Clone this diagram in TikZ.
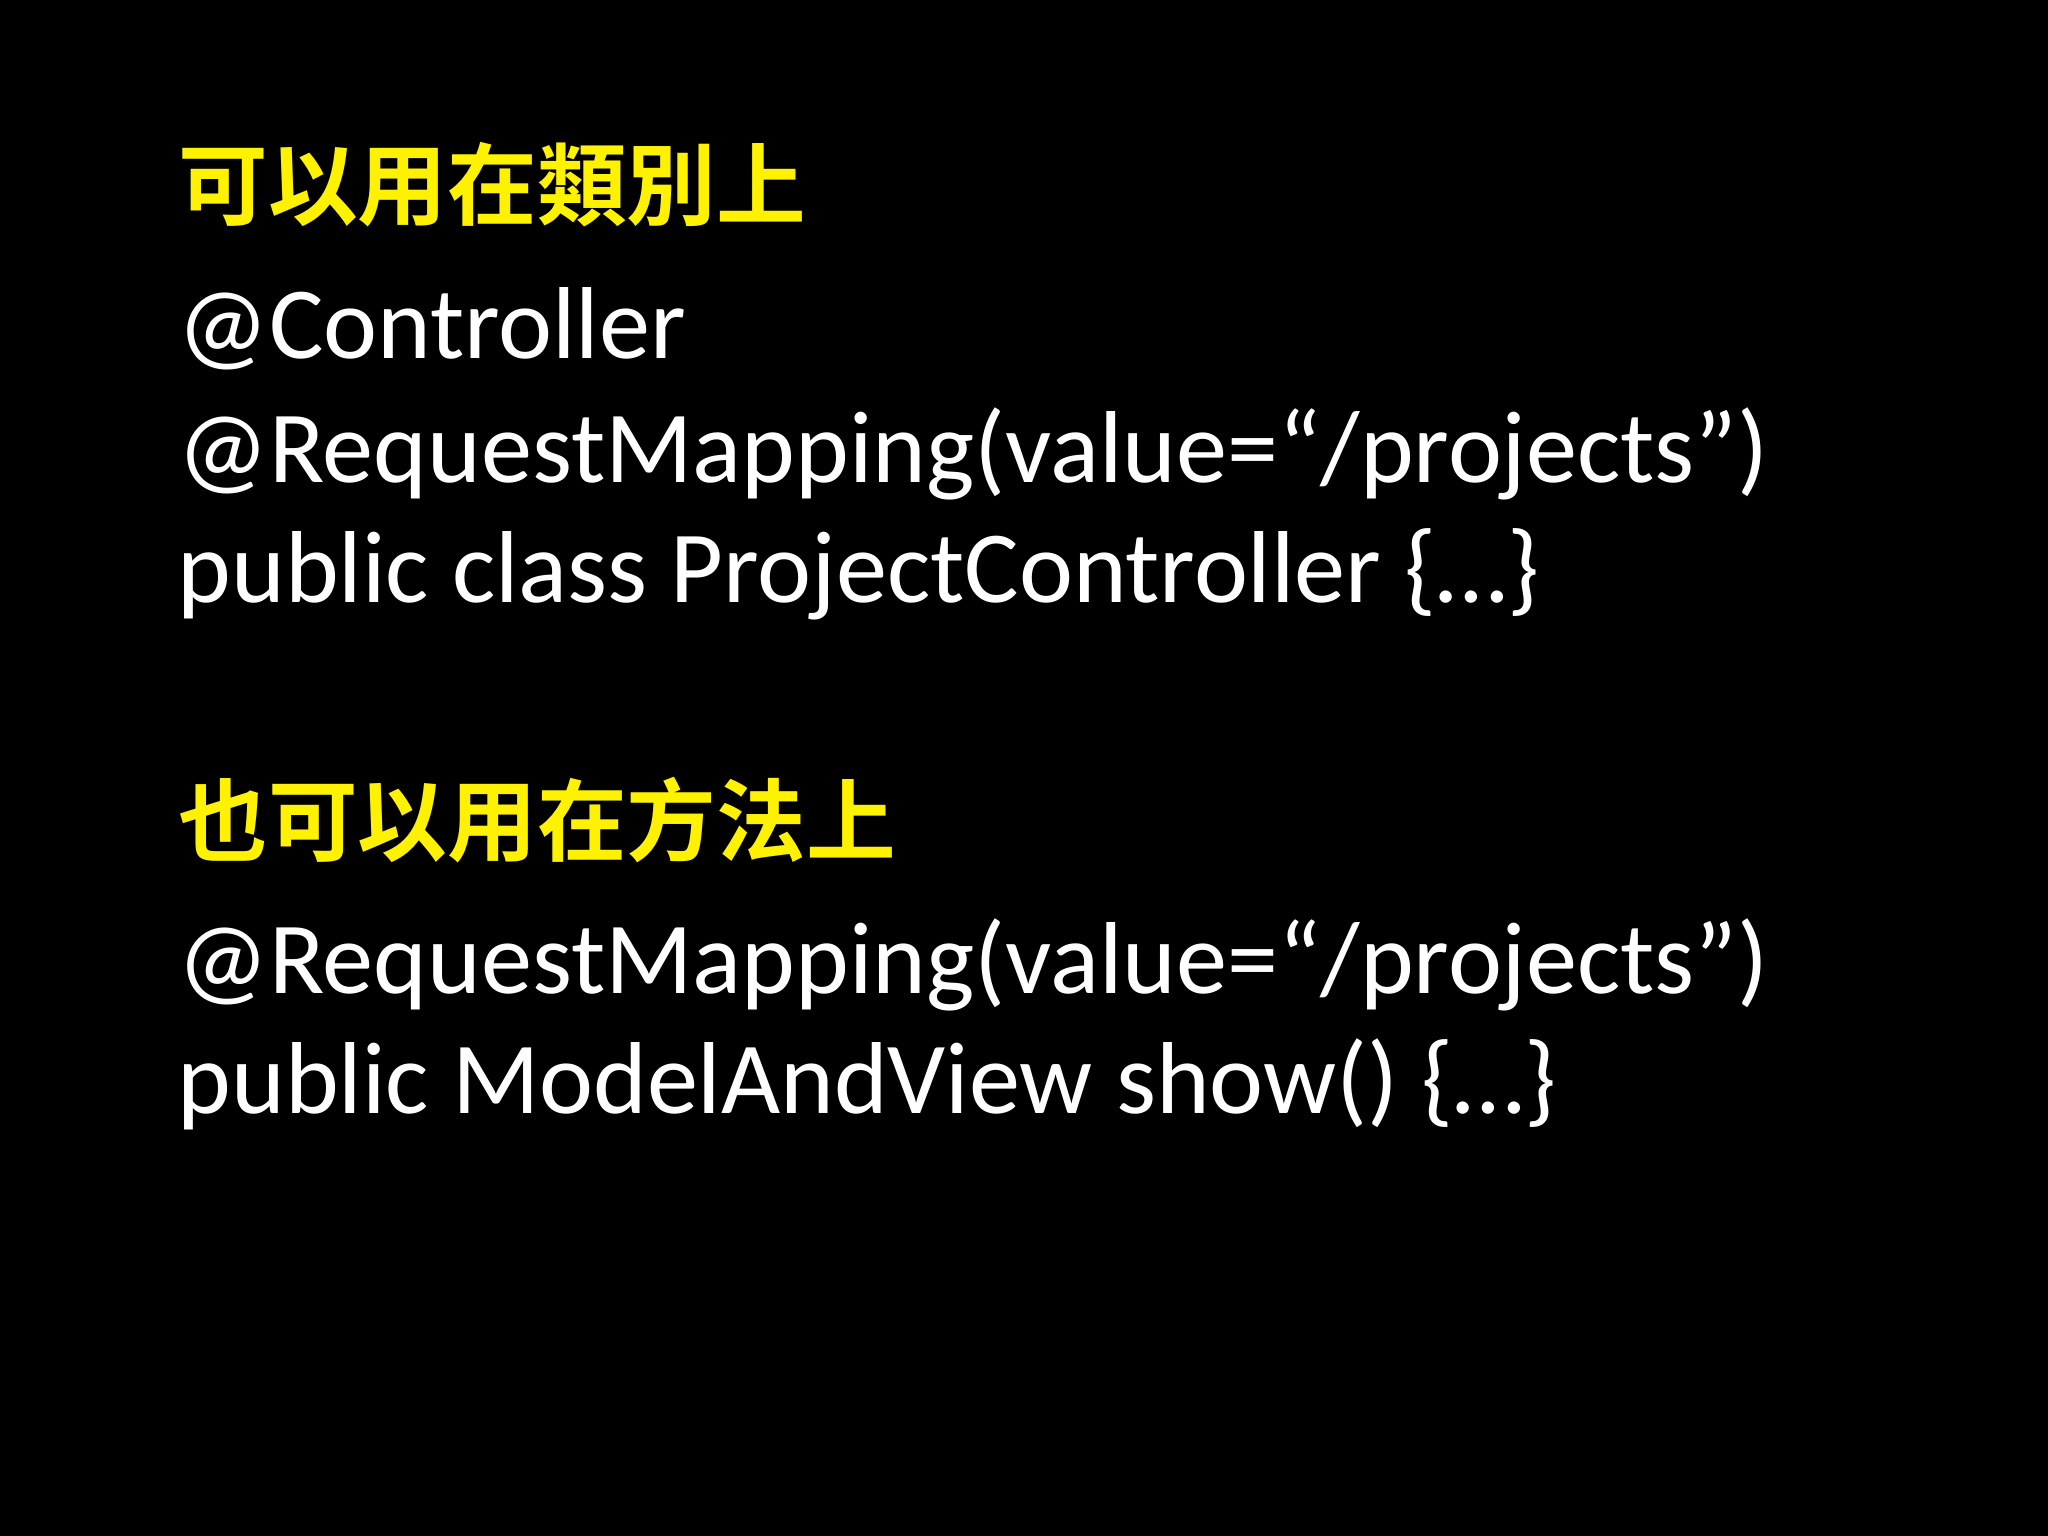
\documentclass[tikz,border=0pt]{standalone}
\usepackage{fontspec}
\setmainfont{Carlito}
\newfontfamily\cjk{Noto Sans CJK TC}[BoldFont={* Bold}]
\begin{document}
\begin{tikzpicture}[x=1cm,y=1cm,
  code/.style={anchor=base west,inner sep=0pt,text=white,font=\fontsize{29.1}{34}\selectfont},
  head/.style={anchor=base west,inner sep=0pt,text=yellow,font=\cjk\bfseries\fontsize{25.5}{30}\selectfont}]
\fill[black] (0,0) rectangle (20.48,-15.36);
\useasboundingbox (0,0) rectangle (20.48,-15.36);
\node[head] (h1) at (1.78,-2.19) {可以用在類別上};
\node[code] (c1) at (1.77,-3.59) {@Controller};
\node[code] (c2) at (1.77,-4.83) {@RequestMapping(value=“/projects”)};
\node[code] (c3) at (1.77,-6.03) {public class ProjectController \{…\}};
\node[head] (h2) at (1.78,-8.55) {也可以用在方法上};
\node[code] (c4) at (1.77,-9.93) {@RequestMapping(value=“/projects”)};
\node[code] (c5) at (1.77,-11.14) {public ModelAndView show() \{…\}};
\end{tikzpicture}
\end{document}
